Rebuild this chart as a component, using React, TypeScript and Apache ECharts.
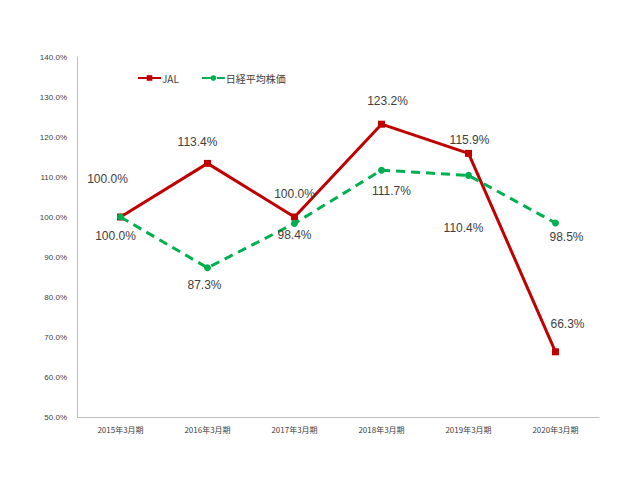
import React, { useEffect, useRef } from "react";
import * as echarts from "echarts";

const categories = ["2015年3月期", "2016年3月期", "2017年3月期", "2018年3月期", "2019年3月期", "2020年3月期"];
const jal = [100.0, 113.4, 100.0, 123.2, 115.9, 66.3];
const nikkei = [100.0, 87.3, 98.4, 111.7, 110.4, 98.5];
const jalLabelOffsets = [[-13, -28.5], [-10, -11.5], [0, -13.5], [6, -13.5], [1, -3.5], [12, -18.5]];
const nikkeiLabelOffsets = [[-5, 9.5], [-3, 7.5], [0, 2.5], [10, 11.5], [-5, 43.5], [11, 4.5]];

export default function App() {
  const ref = useRef<HTMLDivElement>(null);
  useEffect(() => {
    const chart = echarts.init(ref.current!, null, { renderer: "svg" });
    const labelStyle = {
      color: "#404040",
      fontSize: 12,
      fontFamily: "Liberation Sans, Arial, sans-serif",
      distance: 0,
    };
    chart.setOption({
      animation: false,
      backgroundColor: "#ffffff",
      grid: { left: 69, right: 29, top: 49, bottom: 52 },
      legend: {
        left: 124,
        top: 60,
        itemGap: 22,
        itemWidth: 23,
        itemHeight: 7,
        textStyle: { fontSize: 10, color: "#404040", fontFamily: "Noto Sans CJK JP, sans-serif", padding: [0, 0, 0, -4] },
        data: [{ name: "JAL" }, { name: "日経平均株価" }],
      },
      xAxis: {
        type: "category",
        data: categories,
        axisLine: { lineStyle: { color: "#bfbfbf" } },
        axisTick: { show: false },
        axisLabel: { fontSize: 8, color: "#404040", margin: 8, fontFamily: "Noto Sans CJK JP, sans-serif" },
      },
      yAxis: {
        type: "value",
        min: 50,
        max: 140,
        interval: 10,
        axisLine: { show: true, lineStyle: { color: "#bfbfbf" } },
        axisTick: { show: false },
        splitLine: { show: false },
        axisLabel: { fontSize: 8, color: "#404040", margin: 10, formatter: (v: number) => v.toFixed(1) + "%" },
      },
      series: [
        {
          name: "JAL",
          type: "line",
          data: jal.map((v, i) => ({
            value: v,
            label: { show: true, position: "top", offset: jalLabelOffsets[i], ...labelStyle, formatter: v.toFixed(1) + "%" },
          })),
          symbol: "rect",
          symbolSize: 7,
          lineStyle: { color: "#C00000", width: 3 },
          itemStyle: { color: "#C00000" },
          z: 3,
        },
        {
          name: "日経平均株価",
          type: "line",
          data: nikkei.map((v, i) => ({
            value: v,
            label: { show: true, position: "bottom", offset: nikkeiLabelOffsets[i], ...labelStyle, formatter: v.toFixed(1) + "%" },
          })),
          symbol: "circle",
          symbolSize: 7,
          lineStyle: { color: "#00B050", width: 3, type: [9, 6] },
          itemStyle: { color: "#00B050" },
          z: 4,
        },
      ],
    });
    return () => chart.dispose();
  }, []);
  return <div ref={ref} style={{ width: 620, height: 461 }} />;
}
